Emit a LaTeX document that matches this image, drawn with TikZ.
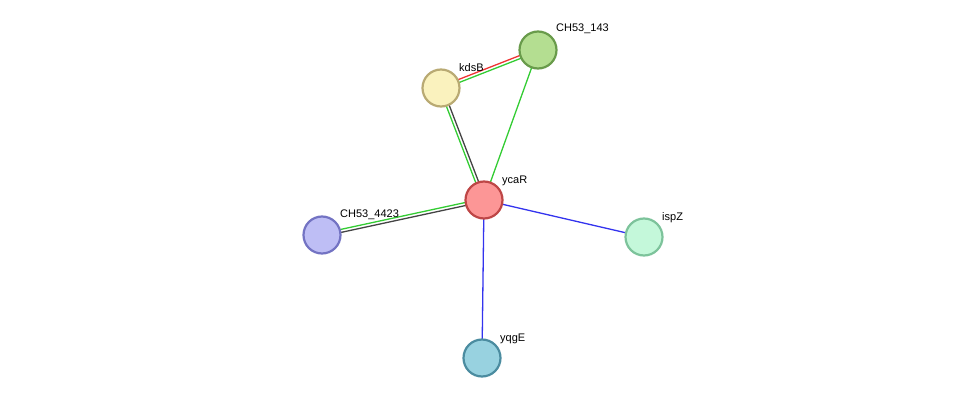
\documentclass[tikz,border=0pt]{standalone}
\usepackage{fontspec}
\setmainfont{Liberation Sans}
\usetikzlibrary{calc,backgrounds}
\definecolor{egreen}{HTML}{33CC33}
\definecolor{ered}{HTML}{EE3333}
\definecolor{egray}{HTML}{444444}
\definecolor{eblue}{HTML}{3333EE}
\tikzset{
 prot/.style={circle,minimum size=37pt,inner sep=0pt,line width=2.2pt},
 lab/.style={font=\fontsize{11}{13}\selectfont,anchor=base west,inner sep=0pt},
 e/.style={line width=1.3pt}
}
\newcommand{\pedge}[4]{%
 \draw[e,#3] ($(#1.center)!#4!90:(#2.center)$) -- ($(#2.center)!#4!-90:(#1.center)$);}
\begin{document}
\begin{tikzpicture}[x=1pt,y=-1pt]
\useasboundingbox (0,0) rectangle (975,404);
\node[prot,fill={rgb,255:red,252;green,150;blue,150},draw={rgb,255:red,190;green,70;blue,70}] (ycaR) at (484,200) {};
\node[prot,fill={rgb,255:red,250;green,242;blue,190},draw={rgb,255:red,185;green,170;blue,115}] (kdsB) at (441,88) {};
\node[prot,fill={rgb,255:red,180;green,222;blue,145},draw={rgb,255:red,105;green,155;blue,75}] (c143) at (538,50) {};
\node[prot,fill={rgb,255:red,190;green,190;blue,245},draw={rgb,255:red,115;green,115;blue,195}] (c4423) at (322,235) {};
\node[prot,fill={rgb,255:red,196;green,248;blue,218},draw={rgb,255:red,125;green,195;blue,155}] (ispZ) at (644,237) {};
\node[prot,fill={rgb,255:red,152;green,210;blue,224},draw={rgb,255:red,75;green,140;blue,160}] (yqgE) at (482,358) {};
\begin{pgfonlayer}{background}
\pedge{kdsB}{c143}{ered}{1.5pt}
\pedge{kdsB}{c143}{egreen}{-1.5pt}
\pedge{ycaR}{kdsB}{egray}{-1.5pt}
\pedge{ycaR}{kdsB}{egreen}{1.5pt}
\draw[e,egreen] (ycaR.center) -- (c143.center);
\pedge{ycaR}{c4423}{egray}{1.5pt}
\pedge{ycaR}{c4423}{egreen}{-1.5pt}
\draw[e,eblue] (ycaR.center) -- (ispZ.center);
\draw[e,eblue] (ycaR.center) -- (yqgE.center);
\end{pgfonlayer}
\node[lab] at (459,71) {kdsB};
\node[lab] at (556,32) {CH53\_143};
\node[lab] at (502,183) {ycaR};
\node[lab] at (340,217) {CH53\_4423};
\node[lab] at (662,220) {ispZ};
\node[lab] at (500,341) {yqgE};
\end{tikzpicture}
\end{document}
